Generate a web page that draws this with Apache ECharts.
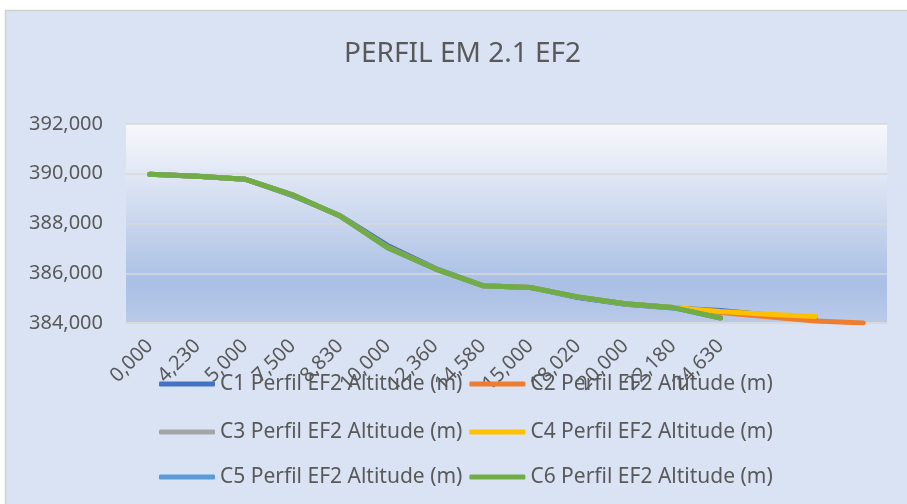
<!DOCTYPE html>
<html>
<head>
<meta charset="utf-8">
<script src="https://cdn.jsdelivr.net/npm/echarts@6/dist/echarts.min.js"></script>
<style>
  html, body { margin: 0; padding: 0; background: #fff; }
  #chart { width: 907px; height: 504px; }
</style>
</head>
<body>
<div id="chart"></div>
<script>
// categories (distance labels), last three have no label
const categories = ["0,000", "4,230", "5,000", "7,500", "8,830", "10,000", "12,360",
  "14,580", "15,000", "18,020", "20,000", "22,180", "24,630", "", "", ""];

const yTicks = { min: 384, max: 392, step: 2 };

const c1 = [389.98, 389.9, 389.78, 389.12, 388.32, 387.12, 386.2, 385.5, 385.43, 385.02, 384.75, 384.6, 384.5, 384.32, 384.16];
const c2 = [389.98, 389.9, 389.78, 389.15, 388.3, 387.05, 386.18, 385.5, 385.43, 385.05, 384.77, 384.62, 384.42, 384.25, 384.08, 384.0];
const c3 = [389.98, 389.9, 389.78, 389.15, 388.3, 387.03, 386.18, 385.5, 385.43, 385.05, 384.77, 384.62, 384.2];
const c4 = [389.98, 389.9, 389.78, 389.15, 388.3, 387.03, 386.18, 385.5, 385.43, 385.05, 384.77, 384.62, 384.46, 384.35, 384.26];
const c5 = [389.98, 389.9, 389.78, 389.15, 388.3, 387.03, 386.18, 385.5, 385.43, 385.05, 384.77, 384.62, 384.2];
const c6 = [389.98, 389.9, 389.78, 389.15, 388.3, 387.03, 386.18, 385.5, 385.43, 385.05, 384.77, 384.62, 384.2];

const names = [
  "C1 Perfil EF2 Altitude (m)", "C2 Perfil EF2 Altitude (m)",
  "C3 Perfil EF2 Altitude (m)", "C4 Perfil EF2 Altitude (m)",
  "C5 Perfil EF2 Altitude (m)", "C6 Perfil EF2 Altitude (m)"
];
const values = [c1, c2, c3, c4, c5, c6];
const colors = ["#4472C4", "#ED7D31", "#A5A5A5", "#FFC000", "#5B9BD5", "#70AD47"];

const font = "Noto Sans";
const textColor = "#595959";

const legendRow = (top, pair) => ({
  left: 159,
  top: top,
  orient: "horizontal",
  itemWidth: 56,
  itemHeight: 5,
  itemGap: 7,
  icon: "roundRect",
  padding: 0,
  data: pair,
  textStyle: { fontFamily: font, fontSize: 21, color: textColor, lineHeight: 24 }
});

const chart = echarts.init(document.getElementById("chart"));
chart.setOption({
  backgroundColor: "#ffffff",
  color: colors,
  animation: false,
  graphic: [{
    type: "rect",
    z: -10,
    shape: { x: 5.5, y: 10.5, width: 910, height: 500 },
    style: { fill: "#DAE3F3", stroke: "#D0D0D0", lineWidth: 1.5 }
  }],
  title: {
    text: "PERFIL EM 2.1 EF2",
    left: 344,
    top: 40,
    padding: 0,
    textStyle: { fontFamily: font, fontSize: 28, fontWeight: "normal", color: textColor }
  },
  legend: [
    legendRow(372, names.slice(0, 2)),
    legendRow(420, names.slice(2, 4)),
    legendRow(465, names.slice(4, 6))
  ],
  grid: {
    left: 126, right: 20, top: 124, bottom: 181,
    show: true,
    borderWidth: 0,
    backgroundColor: new echarts.graphic.LinearGradient(0, 0, 0, 1, [
      { offset: 0, color: "#F6F8FC" },
      { offset: 0.3, color: "#DCE4F3" },
      { offset: 0.8, color: "#A9BFE4" },
      { offset: 1, color: "#BACAE9" }
    ])
  },
  xAxis: {
    type: "category",
    data: categories,
    boundaryGap: true,
    axisLine: { lineStyle: { color: "#D9D9D9", width: 1.5 } },
    axisTick: { show: false },
    axisLabel: {
      interval: 0, rotate: 45, margin: 20,
      fontFamily: font, fontSize: 20, color: textColor
    }
  },
  yAxis: {
    type: "value",
    min: yTicks.min, max: yTicks.max, interval: yTicks.step,
    axisLine: { show: false },
    axisTick: { show: false },
    splitLine: { lineStyle: { color: "#D9D9D9", width: 1.5 } },
    axisLabel: {
      margin: 23,
      fontFamily: font, fontSize: 20, color: textColor,
      formatter: v => v.toFixed(3).replace(".", ",")
    }
  },
  series: names.map((n, i) => ({
    name: n,
    type: "line",
    data: values[i],
    symbol: "none",
    lineStyle: { width: 5, cap: "round", join: "round", color: colors[i] }
  }))
});
</script>
</body>
</html>
